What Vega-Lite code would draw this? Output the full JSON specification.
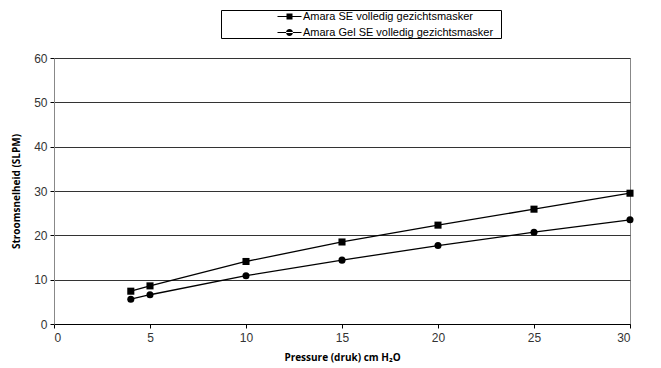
{
  "$schema": "https://vega.github.io/schema/vega-lite/v6.json",
  "width": 576,
  "height": 266,
  "autosize": {"type": "none"},
  "padding": {"left": 54, "top": 58, "right": 31, "bottom": 44},
  "background": "white",
  "config": {
    "view": {"stroke": "#888888", "strokeWidth": 1},
    "font": "Liberation Sans"
  },
  "data": {
    "values": [
      {"p": 4, "flow": 7.4, "s": "Amara SE volledig gezichtsmasker"},
      {"p": 5, "flow": 8.6, "s": "Amara SE volledig gezichtsmasker"},
      {"p": 10, "flow": 14.1, "s": "Amara SE volledig gezichtsmasker"},
      {"p": 15, "flow": 18.5, "s": "Amara SE volledig gezichtsmasker"},
      {"p": 20, "flow": 22.3, "s": "Amara SE volledig gezichtsmasker"},
      {"p": 25, "flow": 25.9, "s": "Amara SE volledig gezichtsmasker"},
      {"p": 30, "flow": 29.5, "s": "Amara SE volledig gezichtsmasker"},
      {"p": 4, "flow": 5.6, "s": "Amara Gel SE volledig gezichtsmasker"},
      {"p": 5, "flow": 6.6, "s": "Amara Gel SE volledig gezichtsmasker"},
      {"p": 10, "flow": 10.9, "s": "Amara Gel SE volledig gezichtsmasker"},
      {"p": 15, "flow": 14.4, "s": "Amara Gel SE volledig gezichtsmasker"},
      {"p": 20, "flow": 17.7, "s": "Amara Gel SE volledig gezichtsmasker"},
      {"p": 25, "flow": 20.7, "s": "Amara Gel SE volledig gezichtsmasker"},
      {"p": 30, "flow": 23.5, "s": "Amara Gel SE volledig gezichtsmasker"}
    ]
  },
  "encoding": {
    "x": {
      "field": "p", "type": "quantitative",
      "scale": {"domain": [0, 30], "nice": false, "zero": true},
      "axis": {
        "title": "Pressure (druk) cm H₂O",
        "titleFont": "Open Sans", "titleFontWeight": "bold", "titleFontSize": 10, "titleColor": "#000", "titlePadding": 9,
        "values": [0, 5, 10, 15, 20, 25, 30],
        "grid": false, "domainColor": "#000", "tickColor": "#000", "tickSize": 4,
        "labelFont": "Liberation Sans", "labelFontSize": 12, "labelColor": "#333", "labelPadding": 4
      }
    },
    "y": {
      "field": "flow", "type": "quantitative",
      "scale": {"domain": [0, 60], "nice": false},
      "axis": {
        "title": "Stroomsnelheid (SLPM)",
        "titleFont": "Open Sans", "titleFontWeight": "bold", "titleFontSize": 10, "titleColor": "#000", "titlePadding": 12,
        "values": [0, 10, 20, 30, 40, 50, 60],
        "grid": true, "gridColor": "#333", "gridWidth": 1, "gridOpacity": 1,
        "domainColor": "#888", "tickColor": "#000", "tickSize": 4,
        "labelFont": "Liberation Sans", "labelFontSize": 12, "labelColor": "#333", "labelPadding": 3
      }
    }
  },
  "resolve": {"scale": {"shape": "independent"}, "legend": {"shape": "independent"}},
  "layer": [
    {
      "mark": {"type": "line", "color": "#000", "strokeWidth": 1.3},
      "encoding": {"detail": {"field": "s"}}
    },
    {
      "mark": {"type": "point", "filled": true, "color": "#000", "opacity": 1, "size": 50},
      "encoding": {
        "shape": {
          "field": "s", "type": "nominal",
          "scale": {"domain": ["Amara SE volledig gezichtsmasker", "Amara Gel SE volledig gezichtsmasker"], "range": ["square", "circle"]},
          "legend": null
        }
      }
    },
    {
      "mark": {"type": "point", "filled": true, "color": "#000", "opacity": 1, "size": 0},
      "encoding": {
        "shape": {
          "field": "s", "type": "nominal",
          "scale": {
            "domain": ["Amara SE volledig gezichtsmasker", "Amara Gel SE volledig gezichtsmasker"],
            "range": [
              "M-2,-0.09H2V0.09H-2Z M-0.5,-0.5H0.5V0.5H-0.5Z",
              "M-2,-0.09H2V0.09H-2Z M-0.58,0A0.58,0.58,0,1,0,0.58,0A0.58,0.58,0,1,0,-0.58,0Z"
            ]
          },
          "legend": {
            "title": " ",
            "titleOrient": "right",
            "titlePadding": 8,
            "titleFontSize": 11,
            "orient": "none",
            "legendX": 167,
            "legendY": -48,
            "direction": "vertical",
            "strokeColor": "#000",
            "fillColor": "white",
            "padding": 0,
            "labelFont": "Liberation Sans",
            "labelFontSize": 11,
            "labelColor": "#000",
            "labelLimit": 300,
            "labelOffset": 7,
            "symbolFillColor": "#000",
            "symbolStrokeColor": "#000",
            "symbolStrokeWidth": 0.2,
            "symbolOpacity": 1,
            "symbolSize": 144,
            "rowPadding": 4,
            "offset": 0,
            "symbolOffset": 62
          }
        }
      }
    }
  ]
}
